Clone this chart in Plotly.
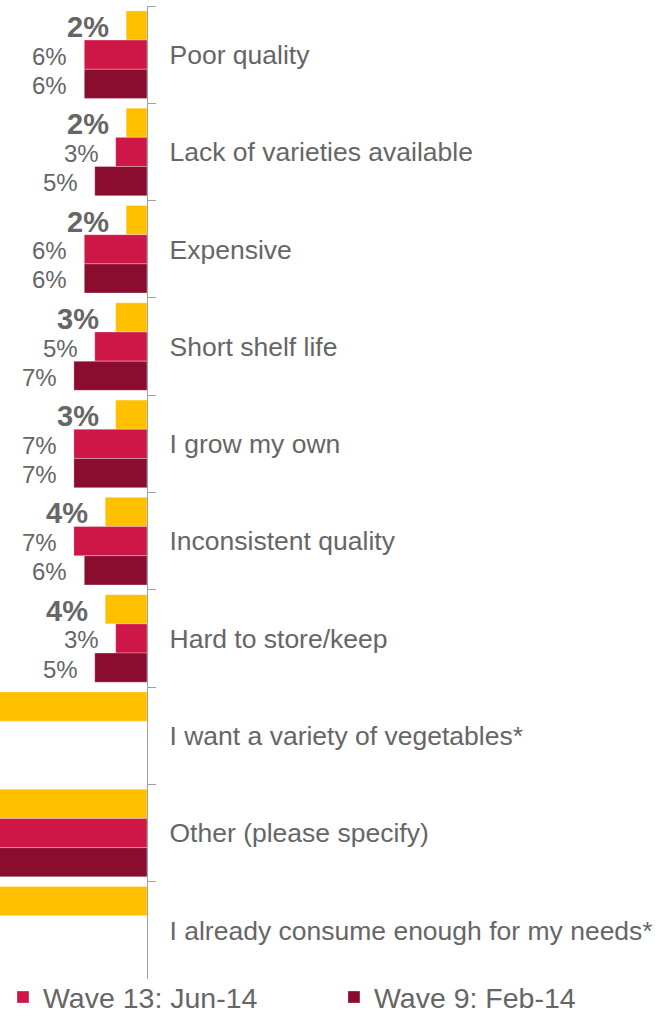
import plotly.graph_objects as go

# Reasons for not buying more vegetables, share of respondents (%)
categories = [
    "Poor quality",
    "Lack of varieties available",
    "Expensive",
    "Short shelf life",
    "I grow my own",
    "Inconsistent quality",
    "Hard to store/keep",
    "I want a variety of vegetables*",
    "Other (please specify)",
    "I already consume enough for my needs*",
]
current_wave = [2, 2, 2, 3, 3, 4, 4, 21, 16, 36]
wave13_jun14 = [6, 3, 6, 5, 7, 7, 3, None, 18, None]
wave9_feb14 = [6, 5, 6, 7, 7, 6, 5, None, 17, None]

# (name, values, colour, legend id or None)
series = [
    ("Current wave", current_wave, "#FFC000", None),
    ("Wave 13: Jun-14", wave13_jun14, "#CE1746", "legend"),
    ("Wave 9: Feb-14", wave9_feb14, "#8A0D2F", "legend2"),
]

X_MAX = 14.07          # visible span of the value axis (%)
BAR_PX = 29.2          # thickness of one bar in the group
TEXT = "#666666"
AXIS = "#A0A0A0"
FONT = "Liberation Sans, Arial, sans-serif"

fig = go.Figure()
for name, vals, color, leg in series:
    fig.add_trace(go.Bar(
        y=categories, x=vals, name=name, orientation="h",
        marker=dict(color=color, line=dict(color="rgba(255,255,255,0.5)", width=0.6)),
        showlegend=leg is not None, legend=leg or "legend", hoverinfo="skip",
    ))

# value labels beside the bar ends
annotations = []
for i, (name, vals, color, leg) in enumerate(series):
    for cat, v in zip(categories, vals):
        if v is None or v > X_MAX:
            continue
        first = i == 0
        annotations.append(dict(
            x=v, y=cat, xref="x", yref="y",
            text=f"<b>{v}%</b>" if first else f"{v}%",
            showarrow=False, xanchor="right", yanchor="middle",
            xshift=-15,
            yshift=(1 - i) * BAR_PX - 1.5,
            font=dict(family=FONT, size=29 if first else 24, color=TEXT),
        ))

legend_style = dict(
    orientation="h", xref="container", yref="container",
    xanchor="left", y=0, yanchor="bottom",
    font=dict(family=FONT, size=28.5, color=TEXT),
    itemwidth=30, bgcolor="rgba(0,0,0,0)",
)

fig.update_layout(
    width=660, height=1023,
    margin=dict(l=0, r=513, t=6, b=44, autoexpand=False),
    paper_bgcolor="white", plot_bgcolor="white",
    barmode="group", bargap=0.1, bargroupgap=0,
    font=dict(family=FONT, color=TEXT),
    annotations=annotations,
    showlegend=True,
    legend=dict(x=0.0045, **legend_style),
    legend2=dict(x=0.506, **legend_style),
)
fig.update_xaxes(
    range=[X_MAX, 0], showgrid=False, zeroline=False,
    showticklabels=False, ticks="", showline=False, fixedrange=True,
)
fig.update_yaxes(
    autorange="reversed", side="right", type="category",
    tickson="boundaries", ticks="outside", ticklen=8, tickwidth=1.4,
    tickcolor=AXIS, showline=True, linecolor=AXIS, linewidth=1.4,
    showgrid=False, ticklabelstandoff=16,
    tickfont=dict(family=FONT, size=26.5, color=TEXT),
    fixedrange=True,
)

fig.write_html("out.html")
